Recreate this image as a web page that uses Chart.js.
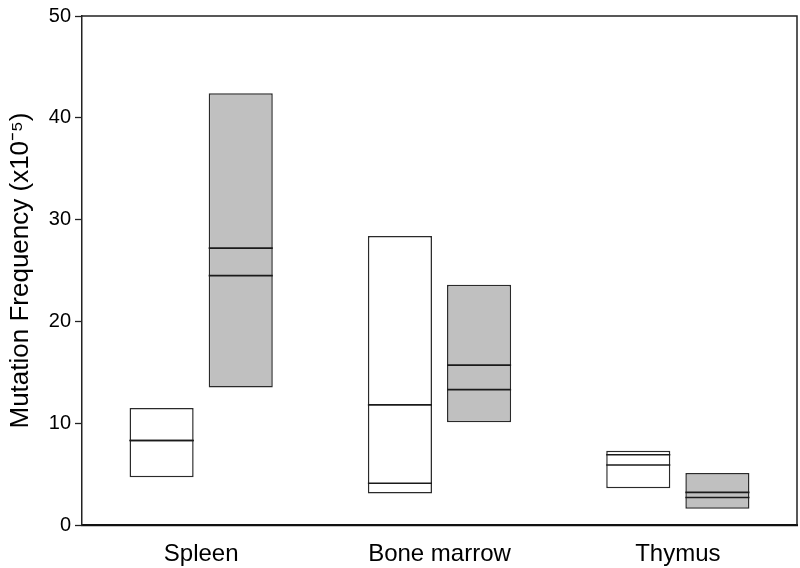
<!DOCTYPE html>
<html>
<head>
<meta charset="utf-8">
<script src="https://cdn.jsdelivr.net/npm/chart.js@4"></script>
<style>
	body { margin: 0; background: #fff; }
</style>
</head>
<body>
<canvas id="chart" width="800" height="568"></canvas>
<script>
// categories and box values
const categories = ['Spleen', 'Bone marrow', 'Thymus'];
const yTicks = [0, 10, 20, 30, 40, 50];

// white boxes
const whiteLow = [4.7, 3.1, 3.6];
const whiteHigh = [11.5, 28.4, 7.3];
const whiteLineA = [8.3, 11.8, 6.9];
const whiteLineB = [8.3, 4.1, 5.9];

// gray boxes
const grayLow = [13.5, 10.1, 1.6];
const grayHigh = [42.4, 23.6, 5.1];
const grayLineA = [27.2, 15.7, 3.2];
const grayLineB = [24.5, 13.3, 2.7];

const fontFam = "Arial, 'Liberation Sans', sans-serif";

function ranges(lo, hi){
	let out = [];
	for(let i = 0; i < lo.length; i++){
		out.push([lo[i], hi[i]]);
	}
	return out;
}

// draws the two inner lines of every box through the y scale
const innerLines = {
	id: 'innerLines',
	afterDatasetsDraw(chart){
		const ctx = chart.ctx;
		const y = chart.scales.y;
		const sets = [[whiteLineA, whiteLineB], [grayLineA, grayLineB]];
		ctx.save();
		ctx.strokeStyle = '#1a1a1a';
		ctx.lineWidth = 1.6;
		sets.forEach((lines, d) => {
			const meta = chart.getDatasetMeta(d);
			meta.data.forEach((bar, i) => {
				const half = bar.width / 2;
				lines.forEach(arr => {
					const py = y.getPixelForValue(arr[i]);
					ctx.beginPath();
					ctx.moveTo(bar.x - half, py);
					ctx.lineTo(bar.x + half, py);
					ctx.stroke();
				});
			});
		});
		ctx.restore();
	}
};

// top and right edges of the frame
const frame = {
	id: 'frame',
	afterDraw(chart){
		const a = chart.chartArea;
		const ctx = chart.ctx;
		ctx.save();
		ctx.strokeStyle = '#222';
		ctx.lineWidth = 1.5;
		ctx.beginPath();
		ctx.moveTo(a.left, a.top);
		ctx.lineTo(a.right, a.top);
		ctx.lineTo(a.right, a.bottom);
		ctx.stroke();
		ctx.restore();
	}
};

const data = {
	labels: categories,
	datasets: [{
		label: 'white',
		data: ranges(whiteLow, whiteHigh),
		backgroundColor: '#ffffff',
		borderColor: '#2a2a2a',
		borderWidth: 1.5,
		borderSkipped: false
	}, {
		label: 'gray',
		data: ranges(grayLow, grayHigh),
		backgroundColor: '#c0c0c0',
		borderColor: '#2a2a2a',
		borderWidth: 1.5,
		borderSkipped: false
	}]
};

const config = {
	type: 'bar',
	data: data,
	plugins: [innerLines, frame],
	options: {
		responsive: false,
		animation: false,
		categoryPercentage: 0.664,
		barPercentage: 0.81,
		layout: { padding: { left: 0, right: 3, top: 10, bottom: 0 } },
		plugins: {
			legend: { display: false },
			tooltip: { enabled: false }
		},
		scales: {
			x: {
				grid: { display: false, drawTicks: false },
				border: { color: '#111', width: 2.2 },
				ticks: {
					color: '#000',
					padding: 15,
					font: { family: fontFam, size: 24 }
				},
				afterFit(scale){ scale.height = 43; }
			},
			y: {
				min: 0,
				max: 50,
				afterBuildTicks(scale){
					scale.ticks = yTicks.map(v => ({ value: v }));
				},
				grid: { drawOnChartArea: false, tickLength: 7, tickColor: '#222', tickWidth: 1.3 },
				border: { color: '#222', width: 1.5 },
				ticks: {
					color: '#000',
					padding: 4,
					font: { family: fontFam, size: 20 }
				},
				title: {
					display: true,
					text: 'Mutation Frequency (x10⁻⁵)',
					color: '#000',
					font: { family: fontFam, size: 26 },
					padding: { top: 5, bottom: 0 }
				},
				afterFit(scale){ scale.width = 82; }
			}
		}
	}
};

let ctx = document.getElementById('chart').getContext('2d');
new Chart(ctx, config);
</script>
</body>
</html>
